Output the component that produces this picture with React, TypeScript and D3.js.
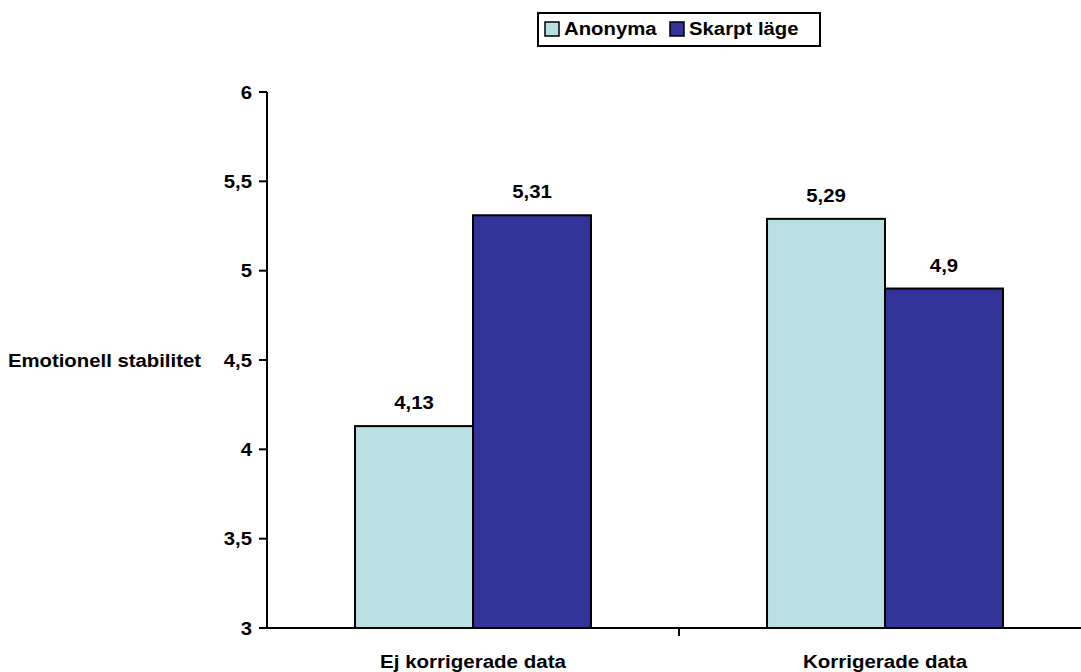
import React from "react";
import * as d3 from "d3";

const categories = ["Ej korrigerade data", "Korrigerade data"];
const seriesNames = ["Anonyma", "Skarpt läge"];
const anonyma = [4.13, 5.29];
const skarpt = [5.31, 4.9];
const labelsAnonyma = ["4,13", "5,29"];
const labelsSkarpt = ["5,31", "4,9"];
const yTicks = [3, 3.5, 4, 4.5, 5, 5.5, 6];
const yTickLabels = ["3", "3,5", "4", "4,5", "5", "5,5", "6"];
const colors = ["#BBE0E3", "#333399"];

const W = 1081;
const H = 672;
const left = 267;
const right = 1091;
const top = 92;
const bottom = 628;
const font = "Liberation Sans, Arial, sans-serif";
const SX = 1.13;

function T({ x, y, anchor = "start", size = 18, sx = SX, children }: any) {
  return (
    <text
      transform={`translate(${x},${y}) scale(${sx},1)`}
      textAnchor={anchor}
      fontSize={size}
      fontWeight="bold"
      fill="#000"
    >
      {children}
    </text>
  );
}

export default function App() {
  const x = d3.scaleBand<string>().domain(categories).range([left, right]).paddingInner(0).paddingOuter(0);
  const y = d3.scaleLinear().domain([3, 6]).range([bottom, top]);
  const inner = d3.scaleBand<string>().domain(seriesNames).range([0, x.bandwidth()]).paddingOuter(0.746).paddingInner(0);
  const series = [anonyma, skarpt];
  const labels = [labelsAnonyma, labelsSkarpt];

  return (
    <svg width={W} height={H} style={{ position: "absolute", left: 0, top: 0, background: "#fff" }} fontFamily={font}>
      {categories.map((c, ci) =>
        seriesNames.map((s, si) => {
          const bx = (x(c) as number) + (inner(s) as number);
          const by = y(series[si][ci]);
          return (
            <g key={c + s}>
              <rect x={bx} y={by} width={inner.bandwidth()} height={bottom - by} fill={colors[si]} stroke="#000" strokeWidth={2} />
              <T x={bx + inner.bandwidth() / 2} y={by - 17} anchor="middle">
                {labels[si][ci]}
              </T>
            </g>
          );
        })
      )}
      <line x1={left} x2={left} y1={top} y2={bottom + 1} stroke="#000" strokeWidth={2} />
      {yTicks.map((t, i) => (
        <g key={t}>
          <line x1={left - 8} x2={left} y1={y(t)} y2={y(t)} stroke="#000" strokeWidth={2} />
          <T x={252} y={y(t) + 6.5} anchor="end">
            {yTickLabels[i]}
          </T>
        </g>
      ))}
      <T x={201} y={y(4.5) + 6.5} anchor="end">
        Emotionell stabilitet
      </T>
      <line x1={left} x2={right} y1={bottom} y2={bottom} stroke="#000" strokeWidth={2} />
      {categories.map((c, i) => (
        <g key={c}>
          {i > 0 && <line x1={x(c)} x2={x(c)} y1={bottom} y2={bottom + 8} stroke="#000" strokeWidth={2} />}
          <T x={(x(c) as number) + x.bandwidth() / 2} y={668} anchor="middle" size={19} sx={1.08}>
            {c}
          </T>
        </g>
      ))}
      <rect x={538} y={13} width={282} height={33} fill="#fff" stroke="#000" strokeWidth={2} />
      {[545, 670].map((lx, i) => (
        <g key={i}>
          <rect x={lx} y={22} width={14} height={14} fill={colors[i]} stroke="#000" strokeWidth={1.5} />
          <T x={lx + 19} y={35}>
            {seriesNames[i]}
          </T>
        </g>
      ))}
    </svg>
  );
}
